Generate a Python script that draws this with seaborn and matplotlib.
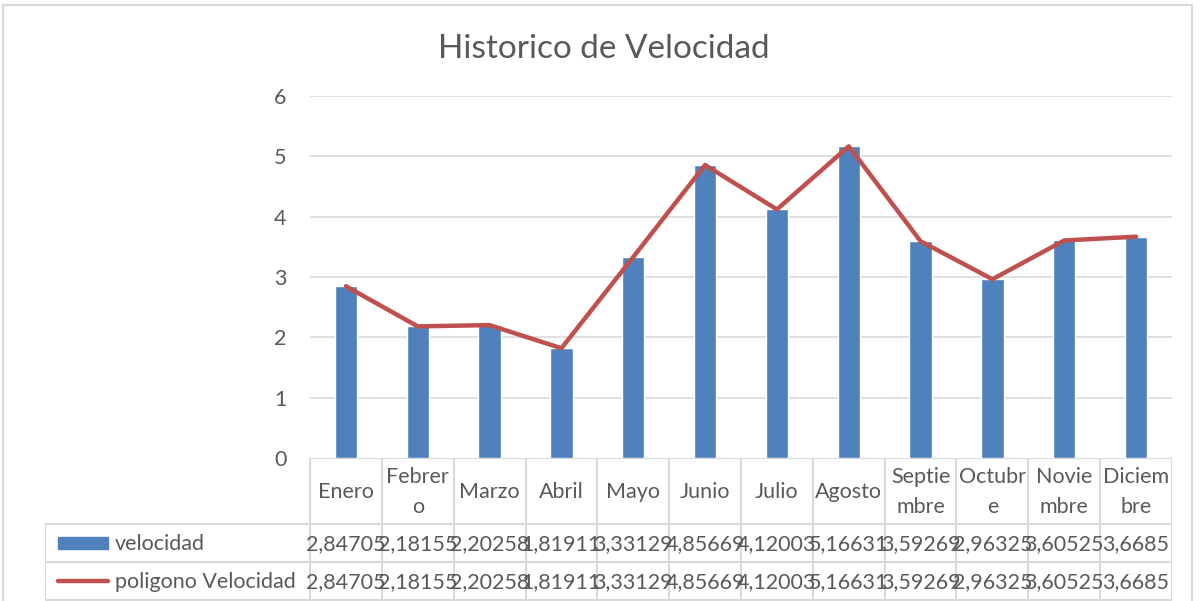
import numpy as np
import pandas as pd
import matplotlib
matplotlib.use("Agg")
import matplotlib.pyplot as plt
import seaborn as sns
from matplotlib.patches import Rectangle
from matplotlib.lines import Line2D

months = ["Enero", "Febrero", "Marzo", "Abril", "Mayo", "Junio", "Julio",
          "Agosto", "Septiembre", "Octubre", "Noviembre", "Diciembre"]
month_labels = ["Enero", "Febrer\no", "Marzo", "Abril", "Mayo", "Junio", "Julio",
                "Agosto", "Septie\nmbre", "Octubr\ne", "Novie\nmbre", "Diciem\nbre"]
velocidad = [2.84705, 2.18155, 2.20258, 1.81911, 3.33129, 4.85669, 4.12003,
             5.16631, 3.59269, 2.96325, 3.60525, 3.6685]
poligono = [2.84705, 2.18155, 2.20258, 1.81911, 3.33129, 4.85669, 4.12003,
            5.16631, 3.59269, 2.96325, 3.60525, 3.6685]
yticks = [0, 1, 2, 3, 4, 5, 6]
series_names = ["velocidad", "poligono Velocidad"]
title = "Historico de Velocidad"

sns.set_theme(style="white")
plt.rcParams["font.family"] = ["Lato", "DejaVu Sans"]

BLUE = "#4F81BD"
RED = "#C0504D"
GRID = "#D9D9D9"
TXT = "#595959"
FS = 15.5

W, H = 1200, 601
fig = plt.figure(figsize=(W / 100, H / 100), dpi=100)

def fx(px):
    return px / W

def fy(py):
    return 1 - py / H

# outer chart border
fig.patches.append(Rectangle((fx(3), fy(606)), fx(1192 - 3), (606 - 5) / H,
                             transform=fig.transFigure, fill=False,
                             edgecolor=GRID, lw=1.5))

# main plot area
x0, x1, ytop, ybot = 310, 1172, 96, 458
ax = fig.add_axes([fx(x0), fy(ybot), fx(x1 - x0), (ybot - ytop) / H])
df = pd.DataFrame({"mes": months, "velocidad": velocidad})
n = len(months)
sns.barplot(data=df, x="mes", y="velocidad", ax=ax, color=BLUE,
            saturation=1, width=0.31, order=months)
sns.lineplot(x=np.arange(n), y=poligono, ax=ax, color=RED, lw=3.2,
             solid_capstyle="round", solid_joinstyle="round")
ax.set_xlim(-0.5, n - 0.5)
ax.set_ylim(yticks[0], yticks[-1])
ax.set_yticks(yticks)
ax.set_yticklabels([str(t) for t in yticks], fontsize=FS, color=TXT)
ax.tick_params(axis="y", length=0, pad=17)
ax.set_xticks([])
ax.set_xlabel("")
ax.set_ylabel("")
for t in yticks[1:]:
    ax.axhline(t, color=GRID, lw=1.2, zorder=0)
for s in ax.spines.values():
    s.set_visible(False)
ax.set_facecolor("none")

fig.text(0.503, fy(49), title, ha="center", va="center", fontsize=24, color=TXT)

# data table axes (aligned with categories)
tl = 45
cat_w = (x1 - x0) / n
tax = fig.add_axes([fx(tl), 0, fx(x1 - tl), (H - ybot) / H])
left_lim = -0.5 - (x0 - tl) / cat_w
tax.set_xlim(left_lim, n - 0.5)
tax.set_ylim(H, ybot)
tax.axis("off")

r_head, r1, r2, r_end = ybot, 524, 562, 600
# horizontal lines
tax.add_line(Line2D([-0.5, n - 0.5], [r_head, r_head], color=GRID, lw=1.5))
for yy in (r1, r2, r_end):
    tax.add_line(Line2D([left_lim, n - 0.5], [yy, yy], color=GRID, lw=1.5))
# vertical lines
for i in range(n + 1):
    tax.add_line(Line2D([i - 0.5, i - 0.5], [r_head, r_end], color=GRID, lw=1.5))
tax.add_line(Line2D([left_lim, left_lim], [r1, r_end], color=GRID, lw=1.5))

for i, lab in enumerate(month_labels):
    tax.text(i, (r_head + r1) / 2 + 1, lab, ha="center", va="center",
             fontsize=FS, color=TXT, linespacing=1.6)

def fmt(v):
    s = f"{v:.5f}".rstrip("0")
    return s.replace(".", ",")

for row_y, vals in ((r1, velocidad), (r2, poligono)):
    for i, v in enumerate(vals):
        tax.text(i, row_y + 20, fmt(v), ha="center", va="center",
                 fontsize=FS, color=TXT)

# legend keys in table
kx0 = left_lim + (58 - tl) / cat_w
kx1 = left_lim + (108 - tl) / cat_w
tax.add_patch(Rectangle((kx0, 537), kx1 - kx0, 12, color=BLUE))
tax.add_line(Line2D([kx0, kx1], [581, 581], color=RED, lw=3.2, solid_capstyle="round"))
tax.text(left_lim + (115 - tl) / cat_w, r1 + 20, series_names[0],
         ha="left", va="center", fontsize=FS, color=TXT)
tax.text(left_lim + (115 - tl) / cat_w, r2 + 20, series_names[1],
         ha="left", va="center", fontsize=FS, color=TXT)

fig.savefig("out.png", dpi=100, facecolor="white")
